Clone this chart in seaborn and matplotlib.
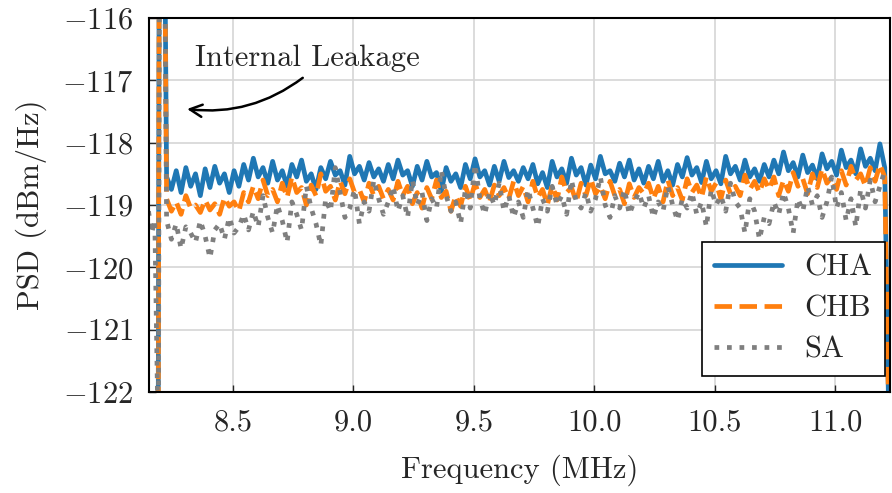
import numpy as np
import pandas as pd
import matplotlib
matplotlib.use("Agg")
import matplotlib.pyplot as plt
import seaborn as sns

# Frequency sampling of the noise floor (MHz)
f_start, f_stop, n_bins = 8.225, 11.205, 150

# Leakage spike and band edges (MHz, dBm/Hz)
spike_freq = [8.19, 8.197, 8.208]
spike_psd = [-123.0, -110.0, -110.0]
edge_freq = [11.224]
edge_psd = [-123.0]

sa_pre_freq = [8.150, 8.163, 8.176, 8.191, 8.198, 8.208]
sa_pre_psd = [-119.10, -119.45, -119.25, -123.0, -110.0, -110.0]

cha_psd = [
    -118.55, -118.75, -118.45, -118.80, -118.40, -118.70, -118.50, -118.85, -118.42,
    -118.72, -118.38, -118.65, -118.50, -118.80, -118.45, -118.70, -118.35, -118.60,
    -118.25, -118.55, -118.40, -118.65, -118.30, -118.60, -118.45, -118.70, -118.35,
    -118.55, -118.28, -118.62, -118.50, -118.75, -118.40, -118.58, -118.30, -118.52,
    -118.45, -118.68, -118.22, -118.50, -118.38, -118.60, -118.32, -118.55, -118.42,
    -118.62,
    -118.35, -118.58, -118.28, -118.52, -118.45, -118.70, -118.38, -118.60, -118.30,
    -118.55, -118.48, -118.78, -118.40, -118.62, -118.50, -118.72, -118.35, -118.58,
    -118.26, -118.55, -118.45, -118.68, -118.38, -118.62, -118.30, -118.56, -118.45,
    -118.62, -118.40, -118.58, -118.35, -118.66, -118.48, -118.72, -118.30, -118.55,
    -118.42, -118.65, -118.25, -118.52, -118.40, -118.68, -118.36, -118.58, -118.22,
    -118.50, -118.45, -118.62, -118.33, -118.55, -118.28, -118.60, -118.42,
    -118.65, -118.38, -118.58, -118.30, -118.62, -118.45, -118.68, -118.35, -118.55,
    -118.24, -118.52, -118.40, -118.64, -118.30, -118.58, -118.45, -118.66, -118.22,
    -118.50, -118.38, -118.60, -118.28, -118.55, -118.42, -118.62, -118.35,
    -118.55, -118.28, -118.50, -118.15, -118.45, -118.32, -118.55, -118.20, -118.48,
    -118.36, -118.58, -118.18, -118.42, -118.30, -118.52, -118.12, -118.40, -118.28,
    -118.50, -118.10, -118.38, -118.25, -118.45, -118.02, -118.40,
]

chb_psd = [
    -118.90, -119.10, -118.95, -119.15, -118.85, -119.05, -119.00, -119.12, -118.92,
    -119.08, -118.98, -119.15, -118.88, -119.02, -118.95, -119.10, -118.80, -118.95,
    -118.70, -118.90, -118.60, -118.85, -118.75, -118.95, -118.65, -118.88, -118.55,
    -118.80, -118.72, -119.00, -118.68, -118.85, -118.50, -118.78, -118.70, -118.92,
    -118.62, -118.82, -118.58, -118.80, -118.75, -118.95, -118.65, -118.85, -118.70,
    -118.90,
    -118.75, -118.92, -118.62, -118.85, -118.70, -118.98, -118.80, -119.05, -118.72,
    -118.90, -118.60, -118.88, -118.78, -119.10, -118.85, -119.02, -118.70, -118.92,
    -118.65, -118.88, -118.75, -118.95, -118.68, -118.85, -118.72, -118.90, -118.62,
    -118.85, -118.70, -118.95, -118.62, -118.88, -118.75, -119.00, -118.68, -118.92,
    -118.55, -118.80, -118.72, -118.95, -118.65, -118.85, -118.58, -118.82, -118.70,
    -118.90, -118.62, -118.85, -118.75, -118.98, -118.66, -118.88, -118.72,
    -118.82, -118.65, -118.90, -118.70, -118.95, -118.60, -118.85, -118.72, -118.92,
    -118.58, -118.80, -118.68, -118.88, -118.55, -118.78, -118.65, -118.90, -118.60,
    -118.82, -118.70, -118.85, -118.52, -118.75, -118.62, -118.80, -118.58,
    -118.75, -118.55, -118.85, -118.60, -118.78, -118.48, -118.70, -118.58, -118.82,
    -118.50, -118.72, -118.42, -118.65, -118.55, -118.75, -118.45, -118.68, -118.38,
    -118.60, -118.50, -118.70, -118.40, -118.62, -118.35, -118.55,
]

sa_psd = [
    -119.25, -119.55, -119.30, -119.70, -119.35, -119.45, -119.60, -119.25, -119.50,
    -119.85, -119.40, -119.30, -119.55, -119.20, -119.45, -119.35, -119.15, -119.40,
    -119.10, -119.35, -118.85, -119.20, -119.45, -119.00, -119.25, -119.60, -118.95,
    -119.15, -119.40, -118.70, -119.05, -119.30, -119.65, -118.90, -119.10, -118.40,
    -118.80, -119.20, -119.05, -118.75, -119.30, -118.95, -119.10, -118.60, -118.90,
    -119.15,
    -118.95, -118.70, -119.10, -118.85, -119.20, -118.60, -119.00, -118.80, -119.25,
    -118.90, -119.05, -118.45, -118.85, -119.10, -118.95, -119.30, -118.75, -119.05,
    -118.35, -118.90, -119.15, -118.80, -119.00, -118.65, -119.10, -118.85, -119.20,
    -118.95, -119.20, -118.75, -119.05, -119.35, -118.90, -119.10, -118.70, -119.00,
    -118.85, -119.15, -118.60, -118.95, -119.05, -118.80, -119.10, -118.90, -118.55,
    -119.00, -119.20, -118.85, -119.05, -118.75, -119.15, -118.95, -118.80,
    -119.05, -118.85, -119.20, -118.95, -119.10, -118.70, -119.00, -119.25, -118.90,
    -119.05, -118.80, -119.15, -118.95, -119.35, -118.75, -119.00, -118.85, -119.10,
    -118.65, -118.95, -119.05, -119.45, -118.90, -119.10, -119.55, -119.20,
    -119.30, -118.95, -119.15, -118.80, -119.05, -119.45, -118.90, -119.10, -118.70,
    -119.00, -118.85, -119.20, -118.95, -118.55, -119.05, -118.80, -119.25, -118.90,
    -119.35, -118.75, -119.05, -118.60, -118.95, -118.70, -118.45,
]

freq = np.linspace(f_start, f_stop, n_bins)

cha_f = np.concatenate([spike_freq, freq, edge_freq])
cha_v = np.concatenate([spike_psd, cha_psd, edge_psd])
chb_f = np.concatenate([spike_freq, freq, edge_freq])
chb_v = np.concatenate([spike_psd, chb_psd, edge_psd])
sa_f = np.concatenate([sa_pre_freq, freq])
sa_v = np.concatenate([sa_pre_psd, sa_psd])

sns.set_style("ticks")
FS = 22
plt.rcParams.update({
    "font.family": "serif",
    "font.serif": ["cmr10"],
    "mathtext.fontset": "cm",
    "axes.formatter.use_mathtext": True,
    "axes.unicode_minus": True,
    "font.size": FS,
})

fig = plt.figure(figsize=(8.92, 4.93), dpi=100)
ax = fig.add_axes([0.1665, 0.2049, 0.8313, 0.7586])

lw = 3.4
sns.lineplot(x=cha_f, y=cha_v, ax=ax, color="#1f77b4", lw=lw, label="CHA",
             sort=False, estimator=None)
sns.lineplot(x=chb_f, y=chb_v, ax=ax, color="#ff7f0e", lw=lw, linestyle="--",
             label="CHB", sort=False, estimator=None)
sns.lineplot(x=sa_f, y=sa_v, ax=ax, color="#7f7f7f", lw=lw, linestyle=":",
             label="SA", sort=False, estimator=None)

ax.set_xlim(8.15, 11.227)
ax.set_ylim(-122, -116)
ax.set_xticks([8.5, 9.0, 9.5, 10.0, 10.5, 11.0])
ax.set_yticks([-122, -121, -120, -119, -118, -117, -116])
ax.set_xticklabels(["8.5", "9.0", "9.5", "10.0", "10.5", "11.0"])
ax.set_yticklabels([r"$-122$", r"$-121$", r"$-120$", r"$-119$", r"$-118$",
                    r"$-117$", r"$-116$"])
ax.grid(True, color="#d6d6d6", lw=1.2)
ax.set_axisbelow(True)
ax.tick_params(direction="in", length=5, width=1, labelsize=FS)
ax.tick_params(axis="x", pad=12)
ax.tick_params(axis="y", pad=11)
for sp in ax.spines.values():
    sp.set_visible(True)
    sp.set_color("black")
    sp.set_linewidth(1.5)

ax.set_xlabel("Frequency (MHz)", fontsize=FS, labelpad=13)
ax.set_ylabel("PSD (dBm/Hz)", fontsize=FS, labelpad=11)

# Label and curved arrow pointing at the leakage spike
ax.text(8.81, -116.64, "Internal Leakage", fontsize=FS, ha="center", va="center")
ax.annotate("", xy=(8.31, -117.46), xytext=(8.79, -116.96),
            arrowprops=dict(arrowstyle="->", color="black", lw=1.8,
                            shrinkA=0, shrinkB=0,
                            connectionstyle="arc3,rad=-0.2"))

leg = ax.legend(loc="lower right", bbox_to_anchor=(0.993, 0.043),
                borderaxespad=0, fontsize=FS, frameon=True, fancybox=False,
                edgecolor="black", framealpha=1, handlelength=2.2,
                handletextpad=0.75, labelspacing=0.45, borderpad=0.4)
leg.get_frame().set_linewidth(1.2)

fig.savefig("out.png", dpi=100)
